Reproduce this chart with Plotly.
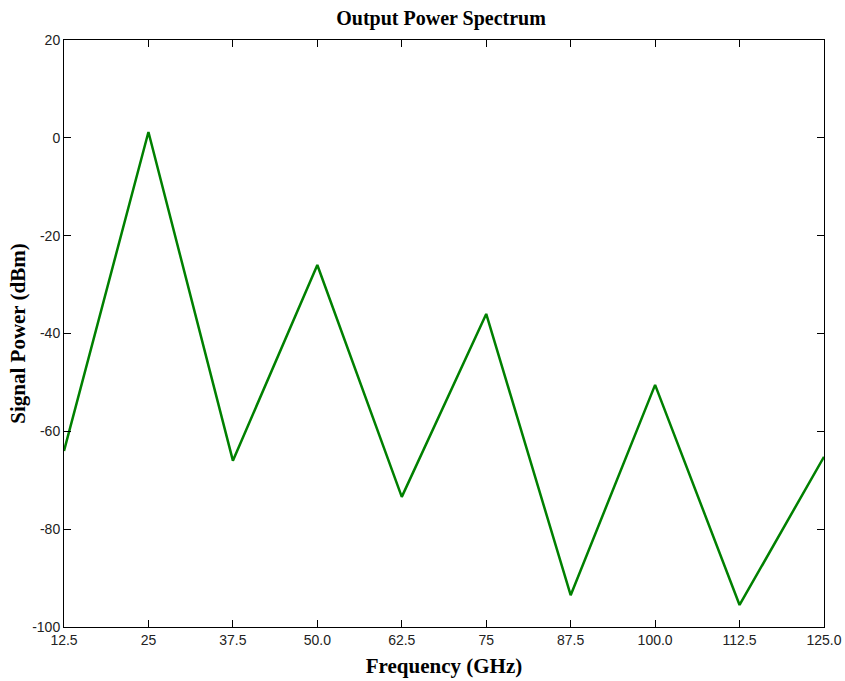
import plotly.graph_objects as go

freq = [12.5, 25, 37.5, 50, 62.5, 75, 87.5, 100, 112.5, 125]
power = [-64.0, 1.2, -66.0, -26.0, -73.4, -36.0, -93.5, -50.5, -95.5, -65.2]
xtick_vals = [12.5, 25, 37.5, 50, 62.5, 75, 87.5, 100, 112.5, 125]
xtick_text = ["12.5", "25", "37.5", "50.0", "62.5", "75", "87.5", "100.0", "112.5", "125.0"]
ytick_vals = [20, 0, -20, -40, -60, -80, -100]
ytick_text = ["20", "0", "-20", "-40", "-60", "-80", "-100"]

fig = go.Figure()
fig.add_trace(go.Scatter(x=freq, y=power, mode="lines",
                         line=dict(color="#008000", width=2.5), showlegend=False))

axis_common = dict(showline=True, linecolor="black", linewidth=1, mirror="ticks",
                   ticks="inside", ticklen=7, tickcolor="black", showgrid=False,
                   zeroline=False, automargin=False,
                   tickfont=dict(family="Liberation Sans, Arial", size=14, color="#222"))

serif = "Liberation Serif, Times New Roman"

fig.update_layout(
    width=845, height=681,
    margin=dict(l=64, r=21, t=40, b=54),
    paper_bgcolor="white", plot_bgcolor="white",
    title=dict(text="<b>Output Power Spectrum</b>", x=0.522, xanchor="center", y=0.973, yanchor="middle",
               font=dict(family=serif, size=20, color="black")),
    xaxis=dict(range=[12.5, 125], tickvals=xtick_vals, ticktext=xtick_text,
               title=dict(text="<b>Frequency (GHz)</b>", standoff=11,
                          font=dict(family=serif, size=21, color="black")),
               **axis_common),
    yaxis=dict(range=[-100, 20], tickvals=ytick_vals, ticktext=ytick_text,
               title=dict(text="<b>Signal Power (dBm)</b>", standoff=0,
                          font=dict(family=serif, size=21, color="black")),
               **axis_common),
)

fig.write_html("out.html")
